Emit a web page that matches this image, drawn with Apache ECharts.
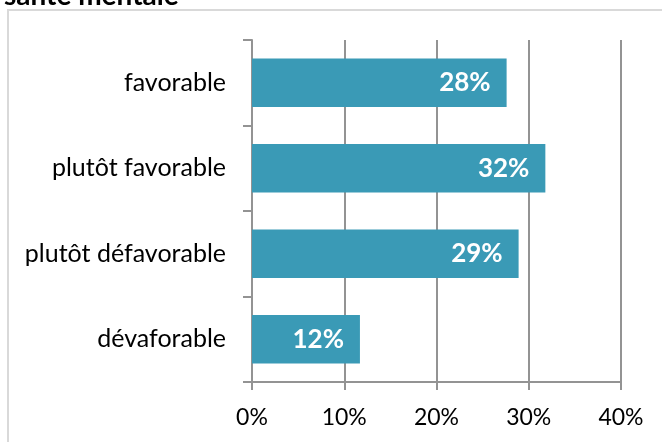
<!DOCTYPE html>
<html>
<head>
<meta charset="utf-8">
<script src="https://cdn.jsdelivr.net/npm/echarts@6.0.0/dist/echarts.min.js"></script>
<style>
  html, body { margin: 0; padding: 0; background: #fff; }
  #chart { width: 662px; height: 442px; }
</style>
</head>
<body>
<div id="chart"></div>
<script>
  // data
  const categories = ["favorable", "plutôt favorable", "plutôt défavorable", "dévaforable"];
  const values = [27.6, 31.8, 28.9, 11.7];
  const labels = ["28%", "32%", "29%", "12%"];
  const xTicks = [0, 10, 20, 30, 40];

  const chart = echarts.init(document.getElementById("chart"));
  const grey = "#939393";

  chart.setOption({
    animation: false,
    textStyle: { fontFamily: "Lato" },
    title: {
      text: "santé mentale",
      left: -1,
      top: -23,
      textStyle: { fontFamily: "Lato", fontSize: 28, fontWeight: "bold", color: "#000" }
    },
    graphic: [{
      type: "rect",
      shape: { x: 8, y: 10, width: 700, height: 500 },
      style: { fill: "none", stroke: "#d9d9d9", lineWidth: 2 },
      silent: true
    }],
    grid: { left: 252, right: 41, top: 40, bottom: 60 },
    xAxis: {
      type: "value",
      min: xTicks[0],
      max: xTicks[xTicks.length - 1],
      interval: 10,
      axisLine: { show: true, lineStyle: { color: grey, width: 2 } },
      axisTick: { show: true, length: 8, lineStyle: { color: grey, width: 2 } },
      splitLine: { show: true, lineStyle: { color: grey, width: 2 } },
      axisLabel: { formatter: "{value}%", fontSize: 23, color: "#000", margin: 24 }
    },
    yAxis: {
      type: "category",
      data: categories,
      inverse: true,
      axisLine: { show: true, lineStyle: { color: grey, width: 2 } },
      axisTick: { show: true, length: 9, lineStyle: { color: grey, width: 2 } },
      axisLabel: { fontSize: 25, color: "#000", margin: 26 }
    },
    series: [{
      type: "bar",
      data: values,
      barCategoryGap: "43%",
      itemStyle: { color: "#3a9ab6" },
      label: {
        show: true,
        position: "insideRight",
        distance: 16,
        formatter: p => labels[p.dataIndex],
        color: "#fff",
        fontSize: 26,
        fontWeight: "bold"
      }
    }]
  });
</script>
</body>
</html>
